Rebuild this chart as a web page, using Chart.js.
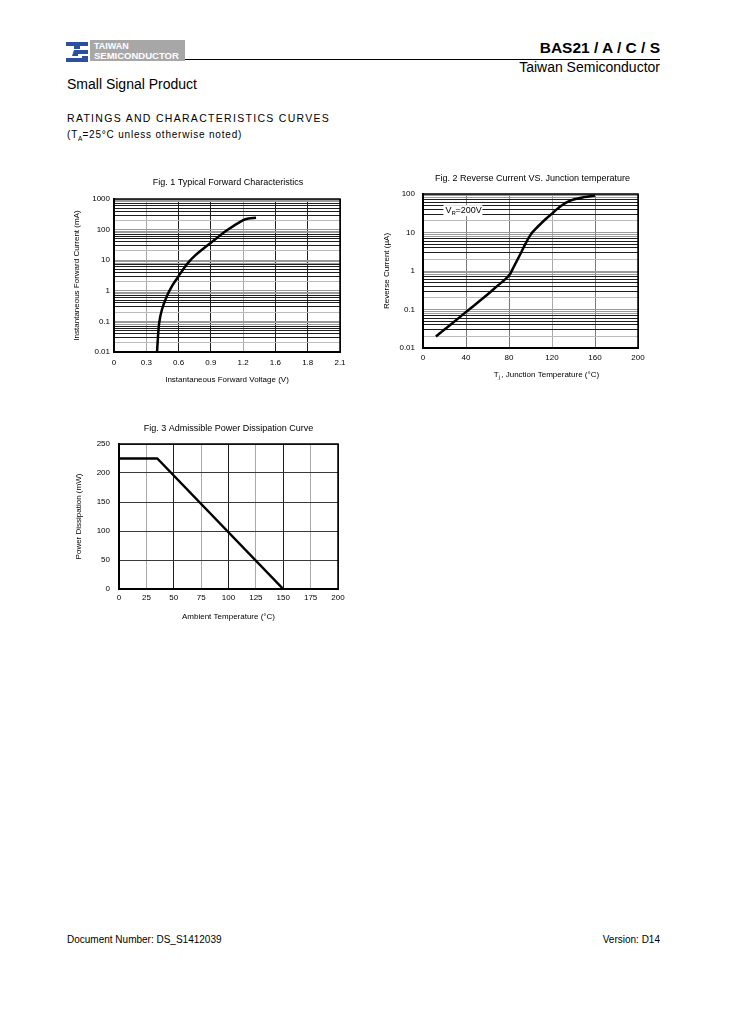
<!DOCTYPE html>
<html>
<head>
<meta charset="utf-8">
<script src="https://cdn.jsdelivr.net/npm/chart.js@4.4.1/dist/chart.umd.min.js"></script>
<style>
body { margin: 0; background: #fff; font-family: "Liberation Sans", Arial, sans-serif; color: #000; }
#page { position: relative; width: 729px; height: 1032px; overflow: hidden; }
.t { position: absolute; white-space: nowrap; line-height: 1; }
canvas { position: absolute; }
</style>
</head>
<body>
<div id="page">
  <svg class="t" style="left:66px;top:41px" width="22" height="22" viewBox="0 0 22 22">
    <path d="M0 1h22v4h-8v3h-6v-3h-8z" fill="#2c4f9e"/>
    <path d="M8 9h14v4h-10v2h10v6h-22v-4h16v-2h-10z" fill="#2c4f9e"/>
  </svg>
  <div class="t" style="left:90px;top:40px;width:95px;height:21px;background:#a7a7a7"></div>
  <div class="t" style="left:94px;top:42px;font-size:9px;font-weight:bold;color:#fff">TAIWAN</div>
  <div class="t" style="left:94px;top:51px;font-size:9.5px;font-weight:bold;color:#fff">SEMICONDUCTOR</div>
  <div class="t" style="left:185px;top:59px;width:475px;height:1px;background:#000"></div>
  <div class="t" style="right:69px;top:40px;font-size:15.5px;font-weight:bold">BAS21 / A / C / S</div>
  <div class="t" style="right:69px;top:60px;font-size:14px">Taiwan Semiconductor</div>
  <div class="t" style="left:67px;top:77px;font-size:14px">Small Signal Product</div>
  <div class="t" style="left:67px;top:113px;font-size:10.5px;letter-spacing:1.3px">RATINGS AND CHARACTERISTICS CURVES</div>
  <div class="t" style="left:67px;top:130px;font-size:10px;letter-spacing:0.8px">(T<sub style="font-size:6.5px;letter-spacing:0">A</sub>=25°C unless otherwise noted)</div>

  <canvas id="fig1" width="300" height="225" style="left:60px;top:165px"></canvas>
  <canvas id="fig2" width="280" height="225" style="left:370px;top:165px"></canvas>
  <canvas id="fig3" width="300" height="210" style="left:60px;top:415px"></canvas>

  <div class="t" style="left:67px;top:935px;font-size:10px">Document Number: DS_S1412039</div>
  <div class="t" style="right:69px;top:935px;font-size:10px">Version: D14</div>
</div>
<script>
// Fig. 1 - typical forward characteristics
const fwdVoltage = [0.40, 0.405, 0.42, 0.445, 0.49, 0.54, 0.60, 0.65, 0.70, 0.75, 0.80, 0.90, 1.05, 1.20, 1.25, 1.32];
const fwdCurrent = [0.01, 0.02, 0.09, 0.24, 0.65, 1.45, 3.0, 5.5, 9.2, 13.8, 19.5, 37, 95, 205, 232, 245];
const fwdVoltTicks = [0, 0.3, 0.6, 0.9, 1.2, 1.5, 1.8, 2.1];
const fwdVoltLabels = ['0', '0.3', '0.6', '0.9', '1.2', '1.6', '1.8', '2.1'];
const fwdCurrentLabels = ['0.01', '0.1', '1', '10', '100', '1000'];

// Fig. 2 - reverse current vs junction temperature (VR = 200V)
const revTemp = [12, 25, 40, 60, 70, 75, 80, 85, 90, 95, 100, 105, 110, 115, 120, 125, 130, 135, 140, 150, 160];
const revCurrent = [0.02, 0.039, 0.086, 0.245, 0.43, 0.56, 0.76, 1.38, 2.57, 4.9, 8.7, 12.6, 17.4, 23.4, 31, 41, 52.5, 63, 72, 83, 92];
const revCurrentLabels = ['0.01', '0.1', '1', '10', '100'];

// Fig. 3 - admissible power dissipation
const ambientTemp = [0, 35, 150];
const powerMw = [225, 225, 0];
const ambientLabels = ['0', '25', '50', '75', '100', '125', '150', '175', '200'];
const powerLabels = ['0', '50', '100', '150', '200', '250'];

const FONT = '"Liberation Sans", Arial, sans-serif';
Chart.defaults.font.family = FONT;
Chart.defaults.font.size = 8;
Chart.defaults.color = '#000';

function logTicks(min, max) {
    const out = [];
    for (let e = Math.round(Math.log10(min)); e <= Math.round(Math.log10(max)); e++) {
        for (let m = 1; m <= 9; m++) {
            const v = parseFloat((m * Math.pow(10, e)).toPrecision(6));
            if (v >= min && v <= max) out.push({ value: v });
        }
    }
    return out;
}

function mantissa(v) {
    return Math.round(v / Math.pow(10, Math.floor(Math.log10(v) + 1e-9)));
}

function logGridColor(ctx) {
    const m = mantissa(ctx.tick.value);
    if (m === 1 || m >= 8) return '#9a9a9a';
    if (m === 2) return '#bbbbbb';
    return '#1e1e1e';
}

function logLabel(labels) {
    return v => labels.find(s => Math.abs(Number(s) / v - 1) < 1e-6) || '';
}

const framePlugin = {
    id: 'frame',
    beforeDatasetsDraw(chart) {
        const { ctx, chartArea: a } = chart;
        ctx.save();
        ctx.strokeStyle = '#000';
        ctx.lineWidth = 1.5;
        ctx.strokeRect(a.left, a.top, a.right - a.left, a.bottom - a.top);
        ctx.restore();
    }
};

const captionPlugin = {
    id: 'caption',
    afterDraw(chart, args, opts) {
        const { ctx, chartArea: a } = chart;
        ctx.save();
        ctx.fillStyle = '#000';
        ctx.font = '9px ' + FONT;
        ctx.textAlign = 'center';
        ctx.textBaseline = 'middle';
        ctx.fillText(opts.text, (a.left + a.right) / 2 + (opts.dx || 0), opts.y);
        ctx.restore();
    }
};

function baseOptions(caption, pad) {
    return {
        responsive: false,
        animation: false,
        devicePixelRatio: 1,
        layout: { padding: pad },
        plugins: { legend: { display: false }, tooltip: { enabled: false }, caption: caption }
    };
}

function curve(xs, ys, tension) {
    return {
        data: xs.map((x, i) => ({ x: x, y: ys[i] })),
        borderColor: '#000',
        borderWidth: 2.5,
        borderJoinStyle: 'round',
        pointRadius: 0,
        tension: tension,
        fill: false
    };
}

// Fig. 1
const opt1 = baseOptions({ text: 'Fig. 1 Typical Forward Characteristics', y: 17.5, dx: 1 }, { top: 34, right: 20, bottom: 0, left: 0 });
opt1.scales = {
    x: {
        type: 'linear', min: 0, max: 2.1,
        afterBuildTicks: s => { s.ticks = fwdVoltTicks.map(v => ({ value: v })); },
        afterFit: s => { s.height = 38; },
        ticks: { padding: 6, autoSkip: false, maxRotation: 0, callback: (v, i) => fwdVoltLabels[i] },
        grid: { drawTicks: false, color: c => (c.index === 1 || c.index === 4) ? '#a8a8a8' : '#1e1e1e' },
        border: { color: '#000', width: 2 },
        title: { display: true, text: 'Instantaneous Forward Voltage (V)', padding: { top: 0, bottom: 5 } }
    },
    y: {
        type: 'logarithmic', min: 0.01, max: 1000,
        afterBuildTicks: s => { s.ticks = logTicks(0.01, 1000); },
        afterFit: s => { s.width = 54; },
        ticks: { padding: 4, autoSkip: false, callback: logLabel(fwdCurrentLabels) },
        grid: { drawTicks: false, color: logGridColor },
        border: { color: '#000', width: 2 },
        title: { display: true, text: 'Instantaneous Forward Current (mA)', padding: { top: 12, bottom: 0 } }
    }
};
new Chart(document.getElementById('fig1'), {
    type: 'line',
    data: { datasets: [curve(fwdVoltage, fwdCurrent, 0.35)] },
    options: opt1,
    plugins: [framePlugin, captionPlugin]
});

// Fig. 2
const vrLabelPlugin = {
    id: 'vrLabel',
    afterDraw(chart) {
        const { ctx, scales } = chart;
        const x = scales.x.getPixelForValue(19);
        const y = scales.y.getPixelForValue(37);
        ctx.save();
        ctx.fillStyle = '#fff';
        ctx.fillRect(x, y - 5.5, 39, 11);
        ctx.fillStyle = '#000';
        ctx.textBaseline = 'middle';
        ctx.font = '9px ' + FONT;
        ctx.fillText('V', x + 2, y);
        ctx.font = '6px ' + FONT;
        ctx.fillText('R', x + 8, y + 2.5);
        ctx.font = '9px ' + FONT;
        ctx.fillText('=200V', x + 12, y);
        // x-axis title with subscript
        const cx = (chart.chartArea.left + chart.chartArea.right) / 2 + 16;
        const ty = 209.5;
        const rest = ', Junction Temperature (°C)';
        ctx.font = '8px ' + FONT;
        const wT = ctx.measureText('T').width;
        const wRest = ctx.measureText(rest).width;
        const wSub = 2.5;
        const left = cx - (wT + wSub + wRest) / 2;
        ctx.fillText('T', left, ty);
        ctx.font = '5.5px ' + FONT;
        ctx.fillText('j', left + wT, ty + 2.5);
        ctx.font = '8px ' + FONT;
        ctx.fillText(rest, left + wT + wSub, ty);
        ctx.restore();
    }
};
const revGrid = ['#1e1e1e', '#777', '#777', '#aaa', '#777', '#1e1e1e'];
const opt2 = baseOptions({ text: 'Fig. 2 Reverse Current VS. Junction temperature', y: 14, dx: 2 }, { top: 29, right: 12, bottom: 0, left: 0 });
opt2.scales = {
    x: {
        type: 'linear', min: 0, max: 200,
        ticks: { stepSize: 40, padding: 5, autoSkip: false, maxRotation: 0 },
        afterFit: s => { s.height = 42; },
        grid: { drawTicks: false, color: c => revGrid[c.index] },
        border: { color: '#000', width: 2 }
    },
    y: {
        type: 'logarithmic', min: 0.01, max: 100,
        afterBuildTicks: s => { s.ticks = logTicks(0.01, 100); },
        afterFit: s => { s.width = 53; },
        ticks: { padding: 8, autoSkip: false, callback: logLabel(revCurrentLabels) },
        grid: { drawTicks: false, color: logGridColor },
        border: { color: '#000', width: 2 },
        title: { display: true, text: 'Reverse Current (μA)', padding: { top: 12, bottom: 0 } }
    }
};
new Chart(document.getElementById('fig2'), {
    type: 'line',
    data: { datasets: [curve(revTemp, revCurrent, 0.35)] },
    options: opt2,
    plugins: [framePlugin, captionPlugin, vrLabelPlugin]
});

// Fig. 3
const opt3 = baseOptions({ text: 'Fig. 3 Admissible Power Dissipation Curve', y: 13.5, dx: 0 }, { top: 29, right: 22, bottom: 0, left: 0 });
opt3.scales = {
    x: {
        type: 'linear', min: 0, max: 200,
        afterBuildTicks: s => { s.ticks = ambientLabels.map(v => ({ value: Number(v) })); },
        afterFit: s => { s.height = 36; },
        ticks: { padding: 4, autoSkip: false, maxRotation: 0, callback: (v, i) => ambientLabels[i] },
        grid: { drawTicks: false, color: c => c.index % 2 ? '#aaa' : '#1e1e1e' },
        border: { color: '#000', width: 2 },
        title: { display: true, text: 'Ambient Temperature (°C)', padding: { top: 0, bottom: 3.5 } }
    },
    y: {
        type: 'linear', min: 0, max: 250,
        afterBuildTicks: s => { s.ticks = powerLabels.map(v => ({ value: Number(v) })); },
        afterFit: s => { s.width = 59; },
        ticks: { padding: 9, autoSkip: false, callback: (v, i) => powerLabels[i] },
        grid: { drawTicks: false, color: '#3a3a3a' },
        border: { color: '#000', width: 2 },
        title: { display: true, text: 'Power Dissipation (mW)', padding: { top: 13.5, bottom: 0 } }
    }
};
new Chart(document.getElementById('fig3'), {
    type: 'line',
    data: { datasets: [curve(ambientTemp, powerMw, 0)] },
    options: opt3,
    plugins: [framePlugin, captionPlugin]
});
</script>
</body>
</html>
